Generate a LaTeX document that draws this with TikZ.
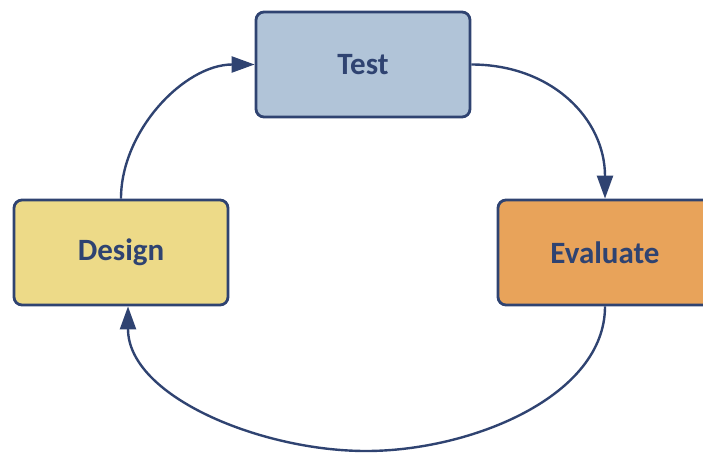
\documentclass[tikz,border=0pt]{standalone}
\usepackage{fontspec}
\setmainfont{Carlito}
\usetikzlibrary{arrows.meta}
\definecolor{navy}{HTML}{2F4371}
\definecolor{testfill}{HTML}{B1C4D8}
\definecolor{designfill}{HTML}{EDDA88}
\definecolor{evalfill}{HTML}{E8A35A}
\tikzset{
  stage/.style={draw=navy, line width=2.8pt, rounded corners=8pt,
    minimum width=214pt, minimum height=105pt, inner sep=0pt,
    font=\fontsize{31}{36}\selectfont\bfseries, text=navy},
  flow/.style={draw=navy, line width=2.4pt,
    -{Triangle[length=23pt,width=16pt]}}
}
\begin{document}
\begin{tikzpicture}[x=1pt,y=-1pt]
  \useasboundingbox (0,0) rectangle (703,453);
  \node[stage, fill=testfill]   (test)   at (363,64.5)  {Test};
  \node[stage, fill=designfill] (design) at (121,252.5) {Design};
  \node[stage, fill=evalfill]   (eval)   at (605,252.5) {Evaluate};
  % lowest point of the return loop
  \coordinate (loop) at (366,451);
  \draw[flow] (design.north) .. controls +(0,-68) and +(-70,0) .. (test.west);
  \draw[flow] (test.east) .. controls +(80,0) and +(0,-80) .. (eval.north);
  \draw[flow] (eval.south) .. controls +(0,90) and +(105,0) .. (loop)
              .. controls +(-105,0) and +(0,90) .. ([xshift=7pt]design.south);
\end{tikzpicture}
\end{document}
